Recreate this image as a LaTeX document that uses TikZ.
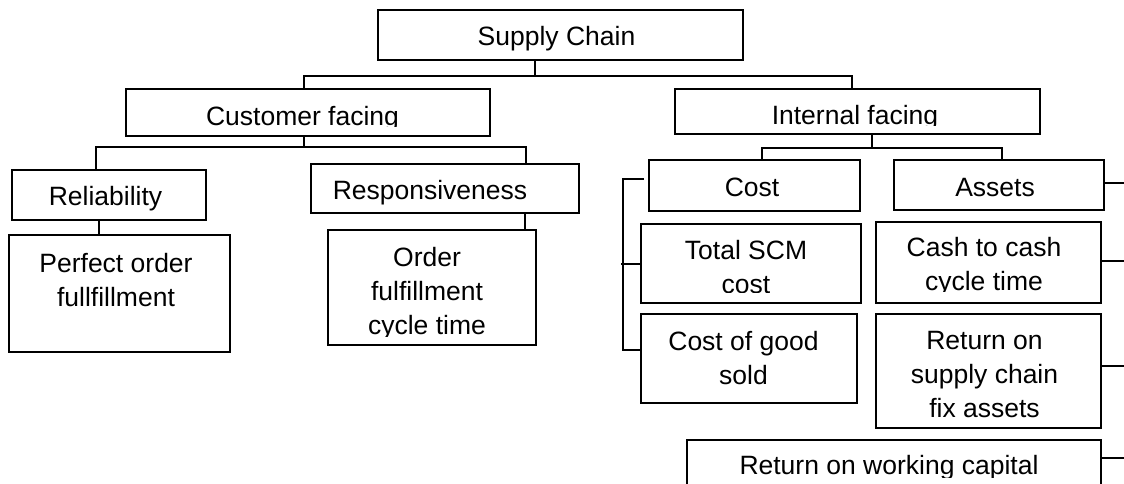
\documentclass[tikz,border=0pt]{standalone}
\usepackage{fontspec}
\setmainfont{Liberation Sans}
\usetikzlibrary{fit,calc}
\tikzset{
  box/.style={draw=black, line width=1.9pt, inner sep=0pt, rectangle},
  txt/.style={font=\fontsize{26.5}{34}\selectfont, align=center, inner sep=0pt, text=black},
  wire/.style={draw=black, line width=1.9pt},
}
% name, x1, y1, x2, y2, text x, text y, text, clip bottom
\newcommand\mkbox[9]{%
  \node[box, fit={(#2,#3) (#4,#5)}] (#1) {};
  \begin{scope}
    \clip (#2,#3) rectangle (#4,#9);
    \node[txt] at (#6,#7) {#8};
  \end{scope}}
\begin{document}
\begin{tikzpicture}[x=1pt,y=-1pt]
\useasboundingbox (0,0) rectangle (1124,484);
\clip (0,0) rectangle (1124,484);
\fill[white] (0,0) rectangle (1124,484);

\mkbox{sc}{378}{10}{743}{60}{556.5}{39.2}{Supply Chain\strut}{60}
\mkbox{cf}{126}{89}{490}{136}{302.5}{119}{Customer facing\strut}{127}
\mkbox{if}{675}{89}{1040}{134}{855}{118}{Internal facing\strut}{126}
\mkbox{rel}{12}{170}{206}{220}{105.5}{199}{Reliability\strut}{220}
\mkbox{resp}{311}{164}{579}{213}{430}{193}{Responsiveness\strut}{213}
\mkbox{po}{9}{235}{230}{352}{116}{283}{Perfect order\strut\\fullfillment\strut}{352}
\mkbox{of}{328}{230}{536}{345}{427}{294}{Order\strut\\fulfillment\strut\\cycle time\strut}{336}
\mkbox{cost}{649}{160}{860}{211}{752}{190}{Cost\strut}{211}
\mkbox{as}{894}{160}{1104}{210}{995}{190}{Assets\strut}{210}
\mkbox{ts}{641}{224}{861}{303}{746}{270}{Total SCM\strut\\cost\strut}{292}
\mkbox{cg}{641}{314}{857}{403}{743.5}{361}{Cost of good\strut\\sold\strut}{403}
\mkbox{cc}{876}{222}{1101}{303}{984}{267}{Cash to cash\strut\\cycle time\strut}{291}
\mkbox{rs}{876}{314}{1101}{428}{984.5}{377}{Return on\strut\\supply chain\strut\\fix assets\strut}{428}
\mkbox{rw}{687}{440}{1101}{495}{889}{468}{Return on working capital\strut}{477}

% Supply Chain bus
\coordinate (b1) at (535,76);
\coordinate (b1l) at (304,76);
\coordinate (b1r) at (852,76);
\draw[wire] (b1 |- sc.south) -- (b1);
\draw[wire] (b1l |- cf.north) -- (b1l) -- (b1r) -- (b1r |- if.north);

% Customer facing bus
\coordinate (b2) at (304,147);
\coordinate (b2l) at (96,147);
\coordinate (b2r) at (526,147);
\draw[wire] (b2 |- cf.south) -- (b2);
\draw[wire] (b2l |- rel.north) -- (b2l) -- (b2r) -- (b2r |- resp.north);

% stubs under Reliability and Responsiveness
\coordinate (s1) at (99,228);
\coordinate (s2) at (525,220);
\draw[wire] (s1 |- rel.south) -- (s1 |- po.north);
\draw[wire] (s2 |- resp.south) -- (s2 |- of.north);

% Internal facing bus
\coordinate (b3) at (872,148);
\coordinate (b3l) at (762,148);
\coordinate (b3r) at (1002,148);
\draw[wire] (b3 |- if.south) -- (b3);
\draw[wire] (b3l |- cost.north) -- (b3l) -- (b3r) -- (b3r |- as.north);

% Cost bracket
\coordinate (k2) at (623,179);
\coordinate (k3) at (623,350);
\coordinate (k4) at (621,264);
\draw[wire] ($(cost.west |- k2)+(-4,0)$) -- (k2) -- (k3) -- (k3 -| cg.west);
\draw[wire] (k4) -- (k4 -| ts.west);

% Right-hand stubs
\coordinate (e1) at (1124,183);
\coordinate (e2) at (1124,261);
\coordinate (e3) at (1124,366);
\coordinate (e4) at (1124,458);
\draw[wire] (as.east |- e1) -- (e1);
\draw[wire] (cc.east |- e2) -- (e2);
\draw[wire] (rs.east |- e3) -- (e3);
\draw[wire] (rw.east |- e4) -- (e4);
\end{tikzpicture}
\end{document}
